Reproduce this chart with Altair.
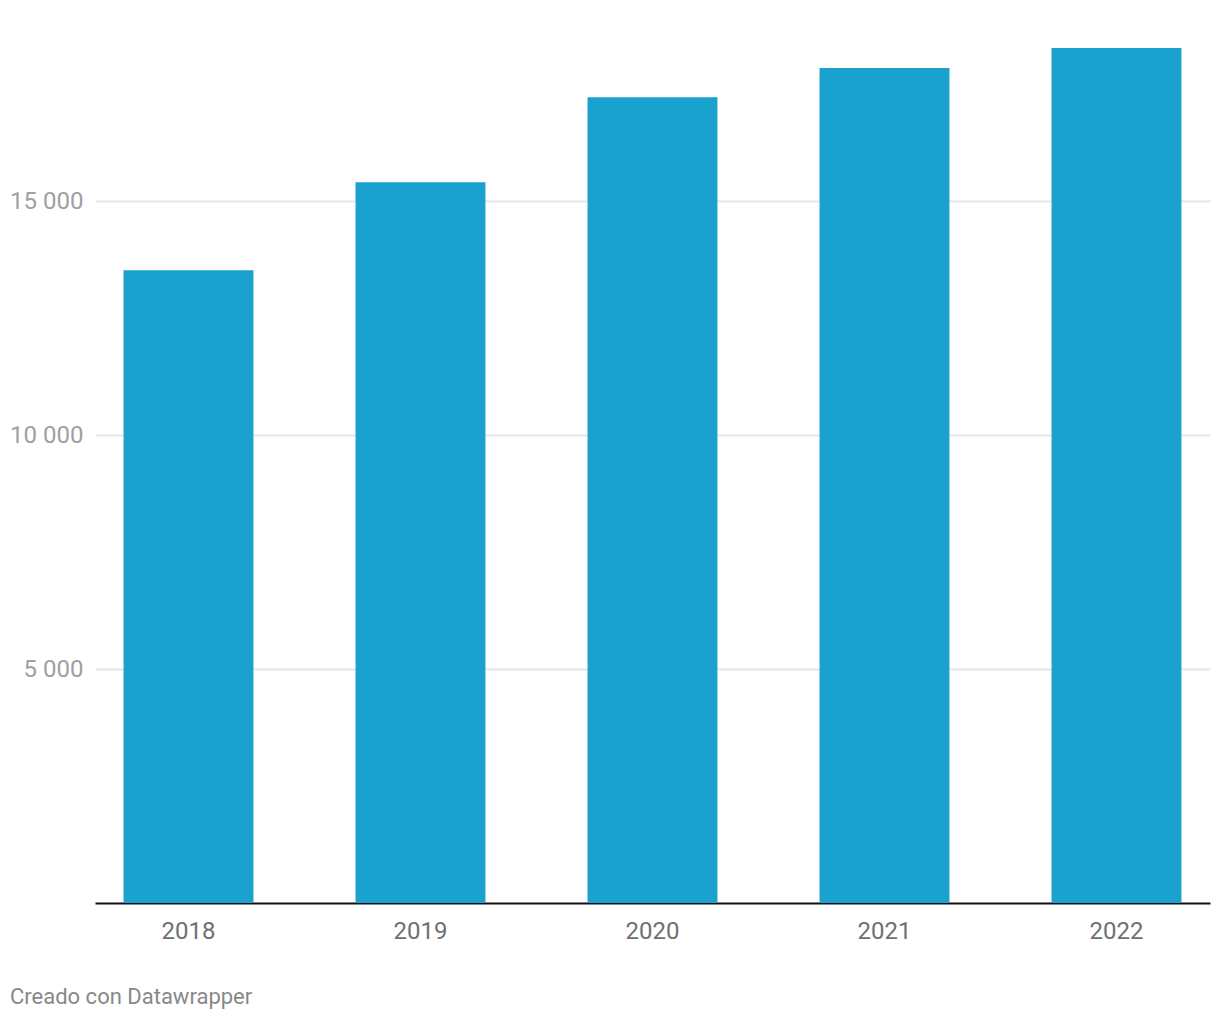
import altair as alt
import pandas as pd

years = ["2018", "2019", "2020", "2021", "2022"]
values = [13520, 15400, 17220, 17840, 18270]
y_ticks = [5000, 10000, 15000]
footer = "Creado con Datawrapper"

df = pd.DataFrame({"year": years, "value": values})

W, H = 1115, 855

bars = alt.Chart(df).mark_bar(color="#1aa1ce").encode(
    x=alt.X("year:N", sort=years,
            scale=alt.Scale(paddingInner=0.44, paddingOuter=0.123),
            axis=alt.Axis(title=None, labelAngle=0, labelFontSize=24, labelColor="#707070",
                          labelFont="Roboto", labelPadding=16, ticks=False,
                          domainColor="#111111", domainWidth=2, grid=False)),
    y=alt.Y("value:Q", scale=alt.Scale(domain=[0, 18270], nice=False),
            axis=alt.Axis(title=None, values=y_ticks, labelFontSize=24, labelColor="#a0a0a0",
                          labelFont="Roboto", labelPadding=12, ticks=False, domain=False,
                          gridColor="#e6e6e6", gridWidth=2,
                          labelExpr="replace(format(datum.value, ','), ',', ' ')")),
)

foot = alt.Chart(pd.DataFrame({"t": [footer]})).mark_text(
    align="left", baseline="middle", fontSize=22, font="Roboto", color="#888888"
).encode(x=alt.value(-85), y=alt.value(949), text="t:N")

chart = alt.layer(bars, foot).properties(
    width=W, height=H,
    autosize=alt.AutoSizeParams(type="none"),
    padding={"left": 95, "top": 48, "right": 10, "bottom": 117},
).configure(background="white").configure_view(stroke=None)

chart.save("out.html", embed_options={"renderer": "svg", "actions": False})
